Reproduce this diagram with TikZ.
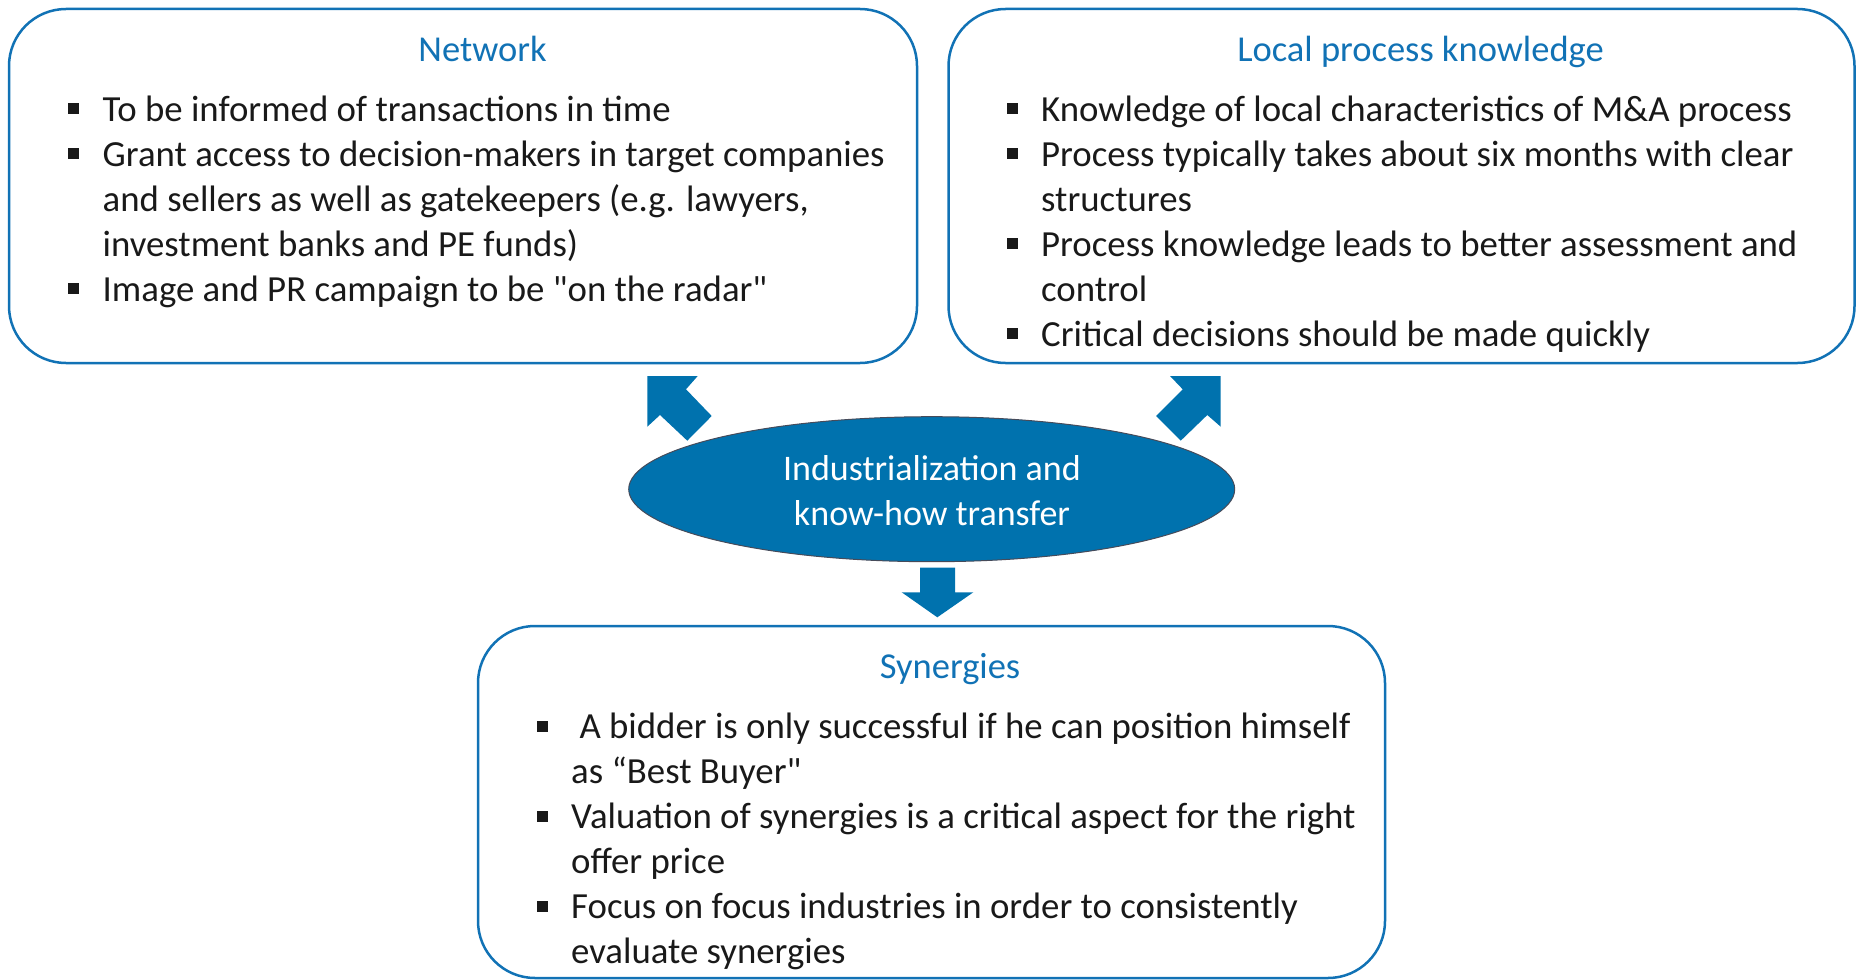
\documentclass[tikz,border=0pt]{standalone}
\usepackage{fontspec}
\setmainfont{Carlito}[Ligatures=TeXOff]
\usetikzlibrary{shapes.geometric}
\definecolor{accent}{RGB}{17,114,181}
\definecolor{hubfill}{RGB}{0,114,174}
\definecolor{ink}{RGB}{25,25,25}
\begin{document}
\begin{tikzpicture}[x=1pt,y=-1pt,
  panel/.style={draw=accent, line width=2.5pt, rounded corners=57pt, inner sep=0pt, rectangle},
  heading/.style={anchor=base, text=accent, font=\fontsize{36.5}{45}\selectfont, inner sep=0pt},
  item/.style={anchor=base west, text=ink, font=\fontsize{36.8}{45}\selectfont, inner sep=0pt},
  bul/.style={fill=ink, minimum size=11pt, inner sep=0pt, rectangle},
  blockarrow/.style={fill=hubfill, draw=none}]

\useasboundingbox (0,0) rectangle (1859,979);

% panels
\node[panel, minimum width=908pt, minimum height=354pt] (network) at (463,186) {};
\node[panel, minimum width=906pt, minimum height=354pt] (local) at (1401.5,186) {};
\node[panel, minimum width=907pt, minimum height=352pt] (syn) at (931.5,802) {};

% central ellipse
\node[ellipse, fill=hubfill, draw={rgb,255:red,70;green,75;blue,90}, line width=1pt,
      minimum width=606pt, minimum height=145pt, inner sep=0pt] (hub) at (931.7,489.2) {};
\node[anchor=base, text=white, font=\fontsize{36}{45}\selectfont, inner sep=0pt] (hubA) at (932,480) {Industrialization and};
\node[anchor=base, text=white, font=\fontsize{36}{45}\selectfont, inner sep=0pt] (hubB) at (932,525) {know-how transfer};

% block arrows
\fill[blockarrow] (647.3,376) -- (697.7,376) -- (686,389.3) -- (711.7,416) -- (687.3,440.7) -- (660,415) -- (647.3,426.7) -- cycle;
\fill[blockarrow] (1220.7,376) -- (1170,376) -- (1182.7,389.3) -- (1156,416) -- (1180.7,440.7) -- (1207.3,415) -- (1220.7,426.7) -- cycle;
\fill[blockarrow] (920,567.7) -- (955,567.7) -- (955,592.3) -- (973.3,592.3) -- (937.3,617.3) -- (901.7,592.3) -- (920,592.3) -- cycle;

% Network
\node[heading] (t1) at (482.5,62) {Network};
\node[bul] (b11) at (73.8,108.5) {};
\node[item] (l11) at (102.5,121.5) {To be informed of transactions in time};
\node[bul] (b12) at (73.8,153.5) {};
\node[item] (l12) at (102.5,166.5) {Grant access to decision-makers in target companies};
\node[item] (l13) at (102.5,211.5) {and sellers as well as gatekeepers (e.g. lawyers,};
\node[item] (l14) at (102.5,256.5) {investment banks and PE funds)};
\node[bul] (b15) at (73.8,288.5) {};
\node[item] (l15) at (102.5,301.5) {Image and PR campaign to be "on the radar"};

% Local process knowledge
\node[heading] (t2) at (1420.5,62) {Local process knowledge};
\node[bul] (b21) at (1012,108.5) {};
\node[item] (l21) at (1041,121.5) {Knowledge of local characteristics of M\&A process};
\node[bul] (b22) at (1012,153.5) {};
\node[item] (l22) at (1041,166.5) {Process typically takes about six months with clear};
\node[item] (l23) at (1041,211.5) {structures};
\node[bul] (b24) at (1012,243.5) {};
\node[item] (l24) at (1041,256.5) {Process knowledge leads to better assessment and};
\node[item] (l25) at (1041,301.5) {control};
\node[bul] (b26) at (1012,333.5) {};
\node[item] (l26) at (1041,346.5) {Critical decisions should be made quickly};

% Synergies
\node[heading] (t3) at (950,678.3) {Synergies};
\node[bul] (b31) at (542.5,726) {};
\node[item] (l31) at (571,738.5) {\ A bidder is only successful if he can position himself};
\node[item] (l32) at (571,783.5) {as “Best Buyer"};
\node[bul] (b33) at (542.5,816) {};
\node[item] (l33) at (571,828.5) {Valuation of synergies is a critical aspect for the right};
\node[item] (l34) at (571,873.5) {offer price};
\node[bul] (b35) at (542.5,906) {};
\node[item] (l35) at (571,918.5) {Focus on focus industries in order to consistently};
\node[item] (l36) at (571,963.5) {evaluate synergies};
\end{tikzpicture}
\end{document}
